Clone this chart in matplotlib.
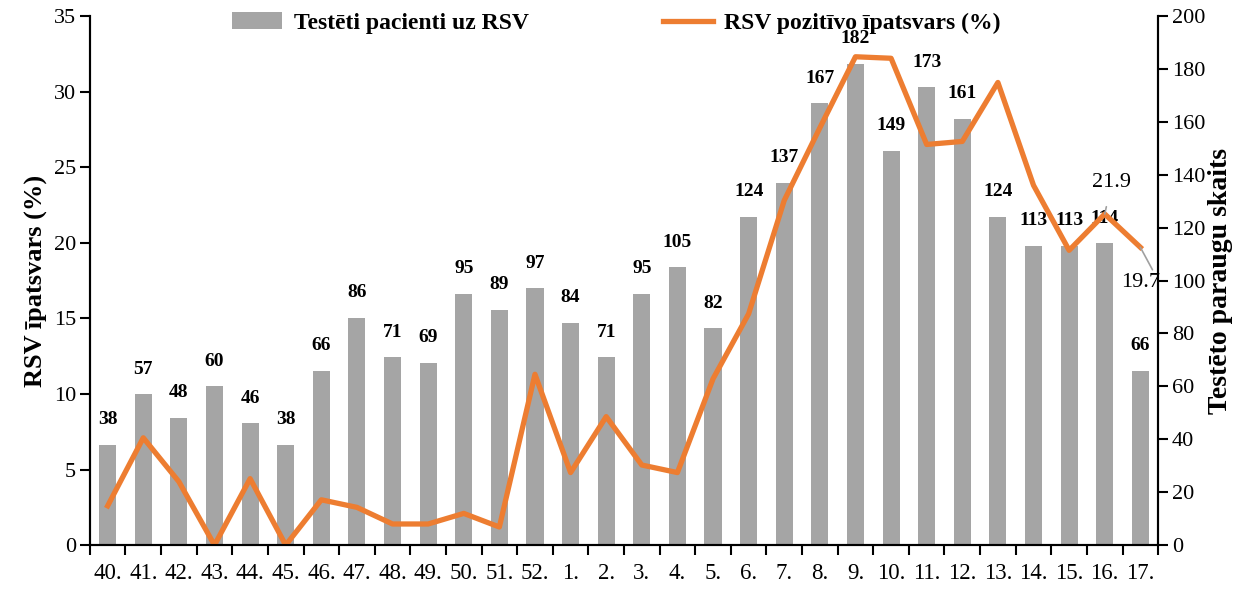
import matplotlib
matplotlib.use("Agg")
import matplotlib.pyplot as plt
import numpy as np

plt.rcParams['font.family'] = ['Liberation Serif', 'DejaVu Serif']

# Data
weeks = ['40.', '41.', '42.', '43.', '44.', '45.', '46.', '47.', '48.', '49.',
         '50.', '51.', '52.', '1.', '2.', '3.', '4.', '5.', '6.', '7.',
         '8.', '9.', '10.', '11.', '12.', '13.', '14.', '15.', '16.', '17.']
tested = [38, 57, 48, 60, 46, 38, 66, 86, 71, 69,
          95, 89, 97, 84, 71, 95, 105, 82, 124, 137,
          167, 182, 149, 173, 161, 124, 113, 113, 114, 66]
positive_pct = [2.6, 7.1, 4.2, 0.0, 4.4, 0.0, 3.0, 2.5, 1.4, 1.4,
                2.1, 1.2, 11.3, 4.8, 8.5, 5.3, 4.8, 11.0, 15.3, 22.8,
                27.6, 32.3, 32.2, 26.5, 26.7, 30.6, 23.8, 19.5, 21.9, 19.7]

bar_color = '#A5A5A5'
line_color = '#ED7D31'

x = np.arange(len(weeks))

fig = plt.figure(figsize=(12.48, 5.9), dpi=100)
ax = fig.add_axes([0.072, 0.076, 0.856, 0.897])   # bars (right scale)
ax2 = ax.twinx()                                   # line (left scale)

bars = ax.bar(x, tested, width=0.48, color=bar_color, label='Testēti pacienti uz RSV')
for xi, v in zip(x, tested):
    ax.annotate(str(v), (xi, v), xytext=(0, 12), textcoords='offset points',
                ha='center', va='bottom', fontsize=14, fontweight='bold')

line, = ax2.plot(x, positive_pct, color=line_color, lw=3.8, label='RSV pozitīvo īpatsvars (%)')

# value labels for the last two points
ax2.annotate('21.9', (x[-2], positive_pct[-2]), xytext=(x[-2] + 0.2, 24.0),
             ha='center', va='center', fontsize=16,
             arrowprops=dict(arrowstyle='-', color='#A0A0A0', lw=1.2, shrinkA=9, shrinkB=0))
ax2.annotate('19.7', (x[-1], positive_pct[-1]), xytext=(x[-1], 17.4),
             ha='center', va='center', fontsize=16,
             arrowprops=dict(arrowstyle='-', color='#A0A0A0', lw=1.2, shrinkA=0, shrinkB=0,
                             relpos=(0.85, 1.0)))

# axes layout: bar scale on the right, line scale on the left
ax.set_xlim(-0.5, len(weeks) - 0.5)
ax.set_ylim(0, 200)
ax.set_yticks(np.arange(0, 201, 20))
ax.yaxis.tick_right()
ax.yaxis.set_label_position('right')
ax.set_ylabel('Testēto paraugu skaits', fontsize=20, fontweight='bold', labelpad=2)

ax2.set_ylim(0, 35)
ax2.set_yticks(np.arange(0, 36, 5))
ax2.yaxis.tick_left()
ax2.yaxis.set_label_position('left')
ax2.set_ylabel('RSV īpatsvars (%)', fontsize=19, fontweight='bold', labelpad=4)

ax.set_xticks(x)
ax.set_xticklabels(weeks, fontsize=16.5)
ax.set_xticks(np.arange(-0.5, len(weeks), 1), minor=True)
ax.tick_params(axis='x', which='major', length=0, pad=13)
ax.tick_params(axis='x', which='minor', length=7, width=1.5, direction='out')

for a in (ax, ax2):
    a.tick_params(axis='y', labelsize=16, length=7, width=1.5, direction='out', pad=3)
    a.spines['top'].set_visible(False)
    for s in ('left', 'right', 'bottom'):
        a.spines[s].set_linewidth(1.5)

fig.legend(handles=[bars, line], loc='upper center', bbox_to_anchor=(0.494, 1.015), ncol=2,
           frameon=False, prop={'weight': 'bold', 'size': 17}, columnspacing=5.7,
           handlelength=2.1, handletextpad=0.5)

fig.savefig('out.png', dpi=100)
